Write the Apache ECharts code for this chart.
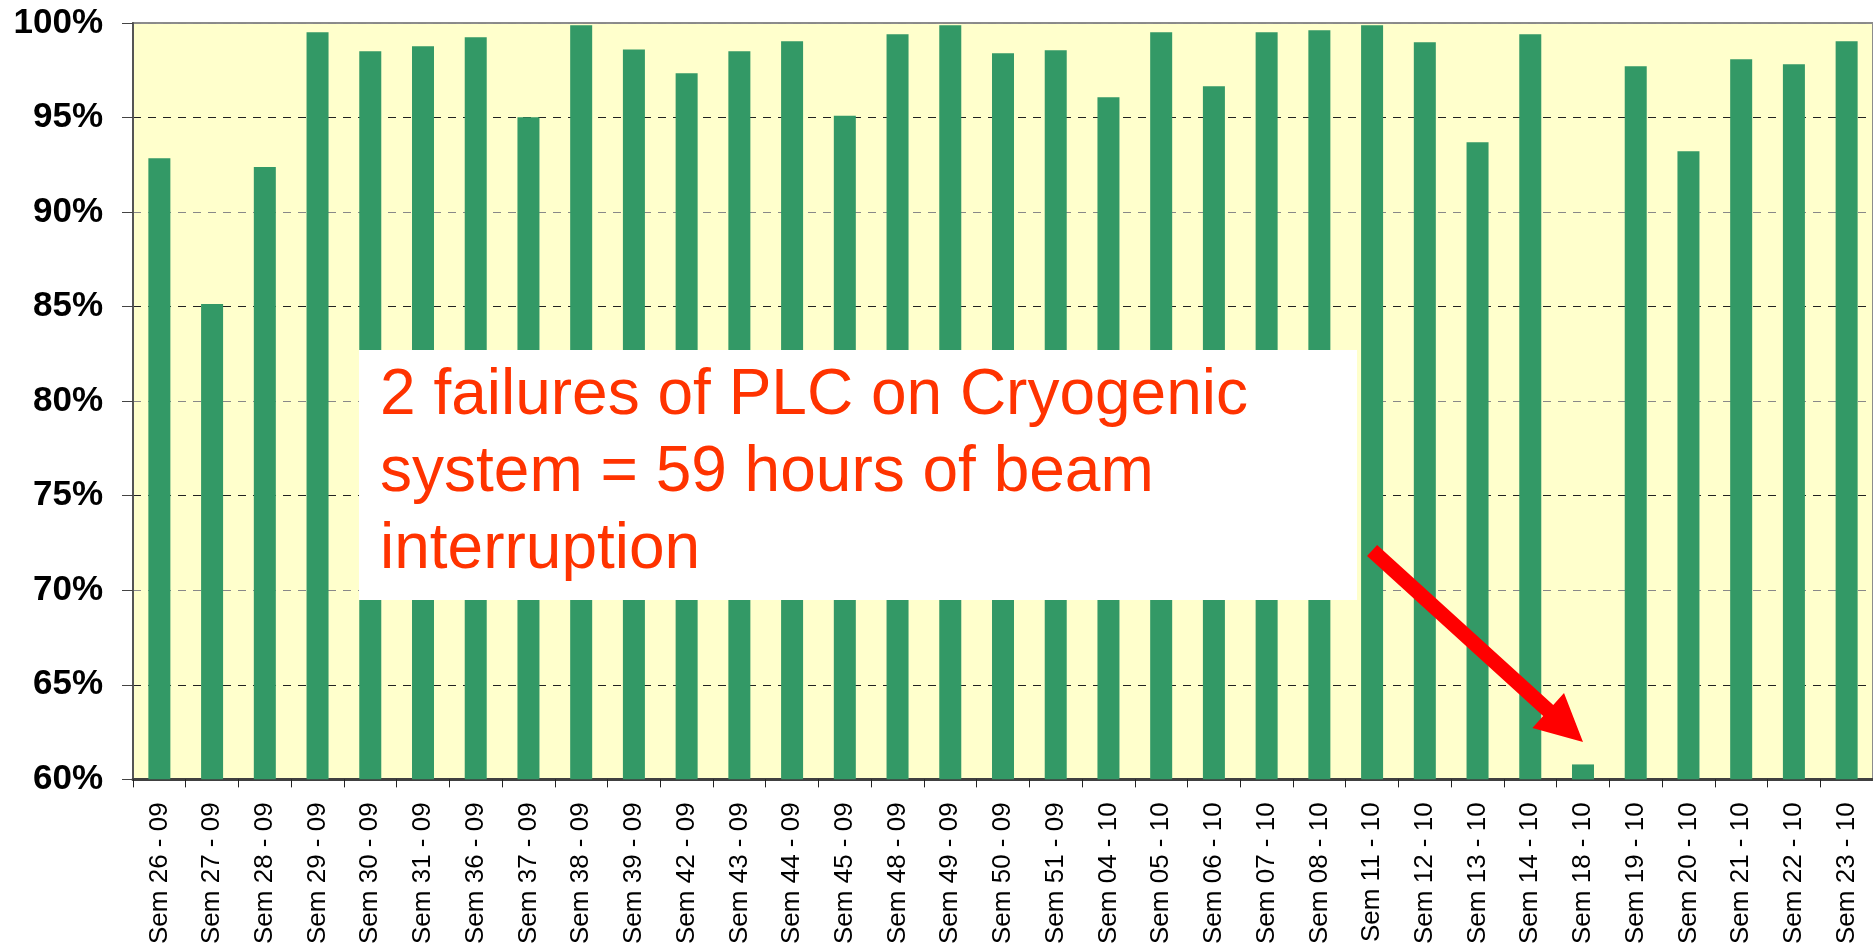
<!DOCTYPE html>
<html>
<head>
<meta charset="utf-8">
<title>Disponibilité</title>
<script src="https://cdn.jsdelivr.net/npm/echarts@6/dist/echarts.min.js"></script>
<style>
html,body{margin:0;padding:0;background:#fff;}
#main{width:1873px;height:947px;}
</style>
</head>
<body>
<div id="main"></div>
<script>
// semaines
var weeks = ['Sem 26 - 09','Sem 27 - 09','Sem 28 - 09','Sem 29 - 09','Sem 30 - 09','Sem 31 - 09',
    'Sem 36 - 09','Sem 37 - 09','Sem 38 - 09','Sem 39 - 09','Sem 42 - 09','Sem 43 - 09',
    'Sem 44 - 09','Sem 45 - 09','Sem 48 - 09','Sem 49 - 09','Sem 50 - 09','Sem 51 - 09',
    'Sem 04 - 10','Sem 05 - 10','Sem 06 - 10','Sem 07 - 10','Sem 08 - 10','Sem 11 - 10',
    'Sem 12 - 10','Sem 13 - 10','Sem 14 - 10','Sem 18 - 10','Sem 19 - 10','Sem 20 - 10',
    'Sem 21 - 10','Sem 22 - 10','Sem 23 - 10'];
// disponibilite (%)
var availability = [92.85, 85.14, 92.38, 99.51, 98.5, 98.77,
    99.24, 95.02, 99.88, 98.6, 97.34, 98.5,
    99.03, 95.1, 99.4, 99.88, 98.4, 98.56,
    96.07, 99.51, 96.66, 99.51, 99.61, 99.88,
    98.98, 93.7, 99.4, 60.79, 97.71, 93.22,
    98.08, 97.82, 99.03];
var yTicks = [60, 100, 5];
var noteLines = ['2 failures of PLC on Cryogenic', 'system = 59 hours of beam', 'interruption'];
// fleche : du point [semaine, %] vers la barre Sem 18
var arrowFrom = ['Sem 11 - 10', 72.1];
var arrowTo = ['Sem 18 - 10', 61.97];

var chart = echarts.init(document.getElementById('main'));
var option = {
    backgroundColor: '#fff',
    animation: false,
    textStyle: { fontFamily: '"Liberation Sans", Arial, sans-serif' },
    grid: {
        left: 133, top: 23, width: 1749, height: 757,
        show: true,
        backgroundColor: '#FFFFCC',
        borderColor: '#8c8c8c',
        borderWidth: 2
    },
    xAxis: {
        type: 'category',
        data: weeks,
        axisLine: { lineStyle: { color: '#404040', width: 3 } },
        axisTick: { show: true, length: 8, interval: 0, lineStyle: { color: '#222', width: 1 } },
        axisLabel: {
            interval: 0,
            rotate: 90,
            margin: 23,
            color: '#000',
            fontSize: 26
        },
        splitLine: { show: false }
    },
    yAxis: {
        type: 'value',
        min: yTicks[0],
        max: yTicks[1],
        interval: yTicks[2],
        axisLine: { show: true, lineStyle: { color: '#555', width: 2 } },
        axisTick: { show: true, length: 11, lineStyle: { color: '#444', width: 1 } },
        axisLabel: {
            formatter: '{value}%',
            margin: 30,
            color: '#000',
            fontSize: 35,
            fontWeight: 'bold'
        },
        splitLine: {
            show: true,
            lineStyle: { color: ['#888', '#222'], width: 1, type: [8, 7] }
        }
    },
    series: [{
        type: 'bar',
        data: availability,
        barWidth: 22,
        itemStyle: { color: '#339966' },
        silent: true
    }]
};
chart.setOption(option);

/* annotation + fleche */
function drawNote(){
    var p1 = chart.convertToPixel({ seriesIndex: 0 }, arrowFrom);
    var p2 = chart.convertToPixel({ seriesIndex: 0 }, arrowTo);
    var dx = p2[0] - p1[0], dy = p2[1] - p1[1];
    var len = Math.sqrt(dx * dx + dy * dy);
    var ux = dx / len, uy = dy / len;
    var nx = -uy, ny = ux;
    var shaft = 15 / 2, head = 47 / 2, headLen = 47;
    var bx = p2[0] - ux * headLen, by = p2[1] - uy * headLen;
    var pts = [
        [p1[0] + nx * shaft, p1[1] + ny * shaft],
        [bx + nx * shaft, by + ny * shaft],
        [bx + nx * head, by + ny * head],
        [p2[0], p2[1]],
        [bx - nx * head, by - ny * head],
        [bx - nx * shaft, by - ny * shaft],
        [p1[0] - nx * shaft, p1[1] - ny * shaft]
    ];
    chart.setOption({
        graphic: [
            {
                type: 'rect', z: 100,
                shape: { x: 359, y: 350, width: 998, height: 250 },
                style: { fill: '#fff' }
            },
            {
                type: 'text', z: 101, x: 380, y: 358,
                style: {
                    text: noteLines.join('\n'),
                    fill: '#FF3300',
                    fontSize: 64,
                    lineHeight: 77,
                    fontFamily: '"Liberation Sans", Arial, sans-serif',
                    verticalAlign: 'top'
                }
            },
            {
                type: 'polygon', z: 102,
                shape: { points: pts },
                style: { fill: '#FF0000' }
            }
        ]
    });
}
drawNote();
</script>
</body>
</html>
